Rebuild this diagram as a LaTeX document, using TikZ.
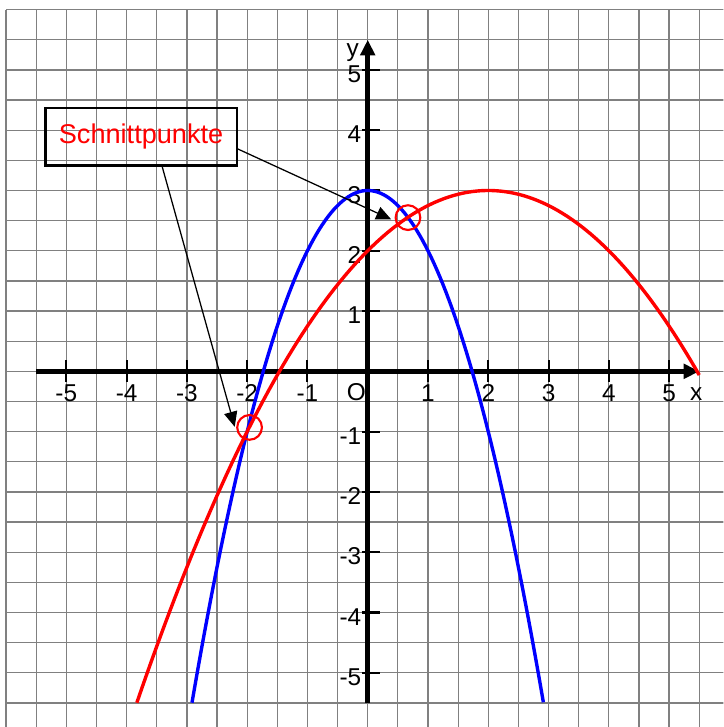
\documentclass[tikz,border=0pt]{standalone}
\usepackage{fontspec}
\setmainfont{Liberation Sans}
\usetikzlibrary{arrows.meta,calc}
\begin{document}
\begin{tikzpicture}[
  gridline/.style={draw=gray, line width=0.6pt},
  axisline/.style={line width=2.4pt, -{Triangle[length=0.26cm,width=0.24cm]}},
  tickmark/.style={line width=1pt},
  ticklabel/.style={font=\fontsize{11.5}{13}\selectfont, inner sep=0pt},
  curve/.style={line width=1.6pt},
  markcirc/.style={circle, draw=red, line width=1pt, minimum size=0.41cm, inner sep=0pt},
  pointer/.style={line width=0.6pt, -{Triangle[length=0.25cm,width=0.22cm]}},
  labelbox/.style={draw, line width=1pt, minimum width=3.17cm, minimum height=0.95cm,
    text=red, font=\fontsize{12.8}{15}\selectfont},
]
\useasboundingbox (-6.1,-5.9) rectangle (5.9,6.16);
\begin{scope}
  \clip (-6.1,-5.9) rectangle (5.9,6.16);
  \draw[gridline] (-6,-6) grid[step=0.5] (6.5,6);
\end{scope}
% axes
\draw[axisline] (-5.5,0) -- (5.5,0);
\draw[axisline] (0,-5.5) -- (0,5.5);
% ticks and labels
\foreach \k in {-5,-4,-3,-2,-1,1,2,3,4,5}{
  \draw[tickmark] (\k,-0.18) -- (\k,0.18);
  \node[ticklabel] (xl\k) at (\k,-0.36) {\k};
  \draw[tickmark] (-0.1,\k) -- (0.2,\k);
  \node[ticklabel, anchor=east] (yl\k) at (-0.1,\k-0.07) {\k};
}
\node[ticklabel] (origin) at (-0.19,-0.34) {O};
\node[ticklabel] (xname) at (5.45,-0.37) {x};
\node[ticklabel] (yname) at (-0.25,5.28) {y};
% curves
\draw[curve, blue] plot[domain=-2.915:2.915, samples=120] (\x, {3-\x*\x});
\draw[curve, red] plot[domain=-3.83:5.5, samples=120] (\x, {3-0.25*(\x-2)^2});
% intersection marks
\node[markcirc] (c1) at (-1.96,-0.93) {};
\node[markcirc] (c2) at (0.668,2.55) {};
% label box and pointers
\node[labelbox] (box) at (-3.76,3.89) {Schnittpunkte};
\coordinate (t1) at (0.39,2.52);
\coordinate (t2) at (-2.206,-0.92);
\draw[pointer] ([yshift=-0.2cm]box.east) -- (t1);
\draw[pointer] ([xshift=0.35cm]box.south) -- (t2);
\end{tikzpicture}
\end{document}
